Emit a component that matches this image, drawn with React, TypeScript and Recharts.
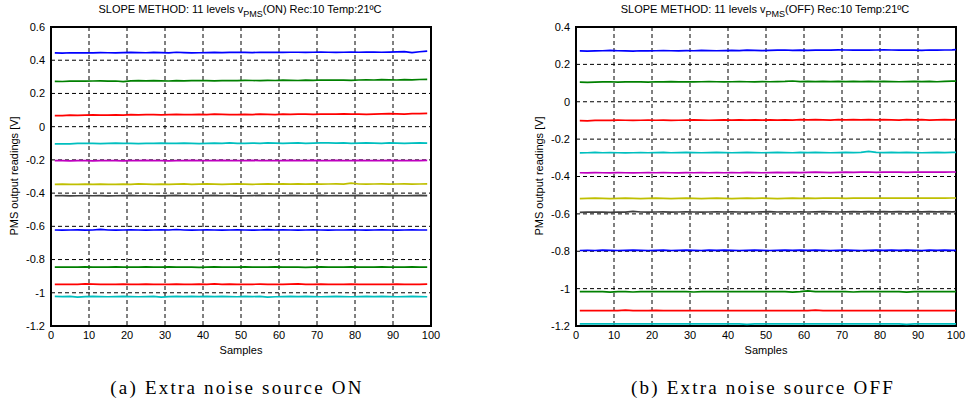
import React from "react";
import { LineChart, Line, XAxis, YAxis, CartesianGrid, ReferenceArea } from "recharts";

// Sample indices (every second sample)
const samplesOn = [
  1, 3, 5, 7, 9, 11, 13, 15, 17, 19,
  21, 23, 25, 27, 29, 31, 33, 35, 37, 39,
  41, 43, 45, 47, 49, 51, 53, 55, 57, 59,
  61, 63, 65, 67, 69, 71, 73, 75, 77, 79,
  81, 83, 85, 87, 89, 91, 93, 95, 97, 99,
];
const samplesOff = [
  1, 3, 5, 7, 9, 11, 13, 15, 17, 19,
  21, 23, 25, 27, 29, 31, 33, 35, 37, 39,
  41, 43, 45, 47, 49, 51, 53, 55, 57, 59,
  61, 63, 65, 67, 69, 71, 73, 75, 77, 79,
  81, 83, 85, 87, 89, 91, 93, 95, 97, 99,
  100,
];

const xTicks = [0, 10, 20, 30, 40, 50, 60, 70, 80, 90, 100];
const yTicksOn = [0.6, 0.4, 0.2, 0, -0.2, -0.4, -0.6, -0.8, -1, -1.2];
const yTicksOff = [0.4, 0.2, 0, -0.2, -0.4, -0.6, -0.8, -1, -1.2];

const levelColors = ["#0000ff", "#008000", "#ff0000", "#00bfbf", "#bf00bf", "#bfbf00", "#404040", "#0000ff", "#008000", "#ff0000", "#00bfbf"];

// Readings in mV, extra noise source ON
const on1 = [
  444, 443, 445, 444, 445, 444, 446, 445, 444, 446,
  447, 446, 445, 447, 446, 444, 448, 446, 444, 445,
  446, 447, 446, 447, 448, 447, 446, 448, 447, 448,
  447, 448, 448, 447, 448, 449, 448, 447, 448, 449,
  448, 449, 449, 448, 449, 450, 452, 446, 451, 455,
];
const on2 = [
  273, 272, 274, 275, 274, 275, 276, 274, 275, 271,
  276, 277, 276, 277, 276, 275, 277, 276, 277, 278,
  277, 276, 277, 278, 277, 279, 278, 277, 279, 278,
  280, 279, 278, 280, 279, 281, 280, 281, 280, 279,
  281, 282, 281, 283, 282, 281, 283, 282, 284, 285,
];
const on3 = [
  67, 66, 69, 68, 70, 71, 70, 69, 71, 70,
  72, 71, 72, 73, 71, 72, 74, 73, 72, 74,
  73, 75, 74, 73, 72, 74, 73, 75, 74, 73,
  75, 74, 76, 75, 74, 76, 75, 76, 77, 76,
  75, 74, 76, 77, 78, 77, 76, 79, 78, 80,
];
const on4 = [
  -103, -104, -103, -101, -100, -101, -102, -100, -99, -101,
  -100, -102, -101, -100, -99, -101, -100, -99, -101, -102,
  -100, -99, -100, -98, -100, -101, -99, -100, -98, -99,
  -100, -99, -98, -100, -99, -98, -97, -99, -98, -100,
  -99, -98, -99, -100, -98, -99, -100, -99, -98, -99,
];
const on5 = [
  -204, -205, -206, -205, -204, -206, -205, -204, -205, -206,
  -204, -205, -203, -205, -204, -206, -205, -204, -203, -205,
  -204, -205, -203, -204, -205, -204, -203, -205, -204, -205,
  -204, -203, -205, -204, -203, -205, -204, -203, -204, -205,
  -203, -204, -205, -204, -203, -205, -204, -205, -204, -203,
];
const on6 = [
  -347, -346, -347, -348, -346, -347, -346, -348, -347, -346,
  -347, -345, -346, -347, -346, -347, -346, -345, -347, -346,
  -345, -346, -347, -346, -345, -346, -347, -346, -345, -346,
  -344, -346, -345, -346, -345, -346, -345, -344, -346, -340,
  -345, -346, -345, -344, -346, -345, -344, -346, -345, -344,
];
const on7 = [
  -416, -415, -417, -416, -415, -416, -415, -417, -416, -415,
  -414, -416, -415, -416, -417, -415, -414, -416, -415, -416,
  -415, -414, -416, -415, -417, -416, -415, -414, -416, -415,
  -416, -414, -415, -416, -415, -414, -416, -415, -416, -415,
  -414, -416, -415, -416, -414, -415, -416, -415, -414, -415,
];
const on8 = [
  -622, -623, -622, -621, -623, -622, -618, -622, -623, -622,
  -621, -622, -623, -622, -621, -622, -619, -622, -623, -622,
  -621, -622, -623, -622, -621, -622, -623, -622, -620, -622,
  -621, -622, -623, -622, -621, -622, -623, -622, -622, -621,
  -622, -623, -622, -621, -622, -623, -622, -621, -622, -622,
];
const on9 = [
  -846, -845, -846, -845, -844, -845, -846, -845, -844, -845,
  -846, -845, -844, -845, -846, -844, -845, -846, -845, -847,
  -845, -844, -845, -846, -845, -844, -845, -846, -845, -844,
  -845, -846, -845, -847, -845, -844, -845, -846, -845, -844,
  -845, -846, -845, -844, -845, -846, -845, -844, -845, -845,
];
const on10 = [
  -950, -949, -950, -949, -947, -948, -949, -950, -949, -948,
  -950, -949, -948, -949, -950, -949, -948, -949, -950, -948,
  -949, -947, -949, -948, -949, -950, -949, -948, -949, -950,
  -949, -948, -947, -949, -950, -948, -949, -950, -949, -948,
  -949, -950, -949, -950, -949, -948, -949, -950, -949, -948,
];
const on11 = [
  -1022, -1023, -1022, -1026, -1023, -1022, -1023, -1024, -1023, -1022,
  -1023, -1024, -1023, -1022, -1026, -1023, -1022, -1023, -1022, -1023,
  -1022, -1023, -1022, -1023, -1024, -1022, -1023, -1022, -1026, -1024,
  -1023, -1022, -1023, -1022, -1023, -1024, -1023, -1022, -1023, -1024,
  -1023, -1022, -1023, -1022, -1023, -1024, -1023, -1022, -1023, -1024,
];

// Readings in mV, extra noise source OFF
const off1 = [
  272, 271, 272, 273, 275, 273, 272, 271, 273, 272,
  273, 274, 273, 272, 274, 273, 275, 274, 273, 274,
  275, 274, 276, 275, 274, 275, 276, 277, 275, 276,
  275, 276, 277, 276, 278, 277, 276, 277, 276, 277,
  278, 277, 276, 277, 276, 275, 277, 276, 277, 278,
  279,
];
const off2 = [
  105, 104, 105, 106, 107, 105, 106, 107, 106, 105,
  107, 106, 108, 106, 107, 106, 107, 108, 107, 106,
  107, 108, 107, 106, 108, 107, 108, 109, 111, 108,
  109, 108, 109, 108, 109, 108, 109, 108, 109, 108,
  109, 108, 107, 108, 109, 108, 109, 107, 109, 110,
  110,
];
const off3 = [
  -101, -102, -100, -99, -100, -98, -99, -100, -99, -98,
  -99, -98, -100, -99, -98, -97, -98, -99, -98, -97,
  -98, -97, -98, -97, -98, -97, -98, -97, -98, -96,
  -97, -96, -97, -98, -96, -97, -96, -97, -96, -97,
  -96, -97, -98, -96, -97, -96, -98, -97, -96, -97,
  -96,
];
const off4 = [
  -274, -273, -271, -273, -272, -273, -274, -273, -272, -273,
  -272, -271, -273, -272, -271, -272, -273, -272, -271, -272,
  -273, -272, -271, -272, -273, -272, -271, -272, -273, -271,
  -272, -271, -272, -273, -272, -271, -272, -271, -266, -271,
  -272, -271, -272, -271, -272, -273, -272, -271, -272, -271,
  -271,
];
const off5 = [
  -380, -381, -379, -380, -381, -379, -380, -381, -380, -379,
  -380, -379, -380, -381, -379, -380, -379, -380, -379, -380,
  -379, -380, -378, -379, -380, -379, -378, -379, -378, -379,
  -378, -377, -378, -379, -378, -377, -378, -377, -376, -378,
  -377, -376, -377, -378, -377, -376, -377, -376, -377, -376,
  -376,
];
const off6 = [
  -518, -517, -516, -517, -518, -517, -516, -517, -518, -517,
  -516, -517, -518, -517, -516, -517, -518, -517, -516, -517,
  -518, -517, -516, -517, -516, -517, -518, -517, -516, -517,
  -516, -517, -516, -515, -516, -517, -516, -515, -516, -515,
  -516, -515, -516, -515, -516, -515, -516, -515, -516, -515,
  -515,
];
const off7 = [
  -592, -591, -590, -591, -592, -590, -591, -587, -590, -591,
  -590, -589, -591, -590, -589, -590, -591, -590, -589, -590,
  -589, -590, -591, -590, -589, -588, -590, -589, -590, -589,
  -590, -589, -588, -589, -590, -589, -588, -589, -588, -589,
  -588, -589, -588, -589, -588, -589, -588, -589, -588, -589,
  -588,
];
const off8 = [
  -796, -795, -796, -794, -795, -796, -795, -794, -795, -796,
  -795, -794, -796, -795, -794, -795, -796, -794, -795, -794,
  -795, -796, -795, -794, -795, -796, -795, -794, -795, -794,
  -795, -794, -795, -796, -795, -794, -795, -796, -795, -794,
  -795, -794, -795, -794, -795, -796, -794, -795, -794, -795,
  -795,
];
const off9 = [
  -1016, -1016, -1016, -1016, -1019, -1016, -1016, -1018, -1016, -1016,
  -1016, -1016, -1016, -1016, -1016, -1018, -1016, -1016, -1016, -1016,
  -1016, -1016, -1016, -1016, -1016, -1016, -1016, -1016, -1019, -1016,
  -1012, -1016, -1016, -1016, -1016, -1016, -1018, -1016, -1016, -1016,
  -1016, -1016, -1016, -1019, -1016, -1016, -1016, -1016, -1016, -1016,
  -1016,
];
const off10 = [
  -1118, -1118, -1118, -1118, -1118, -1118, -1115, -1118, -1118, -1118,
  -1116, -1118, -1118, -1118, -1118, -1118, -1118, -1118, -1118, -1118,
  -1118, -1118, -1118, -1118, -1118, -1118, -1118, -1118, -1118, -1118,
  -1118, -1115, -1118, -1118, -1118, -1118, -1118, -1118, -1118, -1118,
  -1118, -1118, -1118, -1118, -1118, -1118, -1118, -1118, -1118, -1118,
  -1118,
];
const off11 = [
  -1189, -1189, -1189, -1189, -1189, -1189, -1189, -1189, -1189, -1189,
  -1189, -1189, -1189, -1189, -1189, -1189, -1189, -1189, -1189, -1189,
  -1189, -1189, -1191, -1189, -1189, -1189, -1189, -1189, -1189, -1189,
  -1189, -1189, -1189, -1189, -1189, -1189, -1189, -1189, -1189, -1189,
  -1189, -1189, -1189, -1191, -1189, -1189, -1189, -1189, -1189, -1189,
  -1189,
];

const onSeries = [on1, on2, on3, on4, on5, on6, on7, on8, on9, on10, on11];
const offSeries = [off1, off2, off3, off4, off5, off6, off7, off8, off9, off10, off11];

function buildRows(samples: number[], series: number[][]) {
  return samples.map((s, i) => {
    const row: Record<string, number> = { s };
    series.forEach((arr, k) => {
      row["v" + k] = arr[i] / 1000;
    });
    return row;
  });
}

const onRows = buildRows(samplesOn, onSeries);
const offRows = buildRows(samplesOff, offSeries);

const SANS = "'Liberation Sans', Arial, sans-serif";
const SERIF = "'Liberation Serif', 'DejaVu Serif', serif";
const fmt = (v: number) => String(Number(v.toFixed(1)));

type PanelProps = {
  rows: Record<string, number>[];
  yTicks: number[];
  yMin: number;
  yMax: number;
  marginLeft: number;
  marginRight: number;
};

function Panel({ rows, yTicks, yMin, yMax, marginLeft, marginRight }: PanelProps) {
  return (
    <LineChart
      width={483}
      height={360}
      data={rows}
      margin={{ top: 27, right: marginRight, bottom: 4, left: marginLeft }}
    >
      <CartesianGrid stroke="#000" strokeDasharray="4 3" strokeWidth={1} />
      <XAxis
        type="number"
        dataKey="s"
        domain={[0, 100]}
        ticks={xTicks}
        interval={0}
        axisLine={false}
        tickLine={false}
        tickSize={3}
        height={30}
        tick={{ fill: "#000", fontSize: 11, fontFamily: SANS }}
      />
      <YAxis
        type="number"
        domain={[yMin, yMax]}
        ticks={yTicks}
        interval={0}
        axisLine={false}
        tickLine={false}
        tickSize={4}
        width={40}
        tickFormatter={fmt}
        tick={{ fill: "#000", fontSize: 11, fontFamily: SANS }}
      />
      {onSeries.map((_, k) => (
        <Line
          key={k}
          type="linear"
          dataKey={"v" + k}
          stroke={levelColors[k]}
          strokeWidth={1.7}
          dot={false}
          isAnimationActive={false}
        />
      ))}
      <ReferenceArea x1={0} x2={100} y1={yMin} y2={yMax} fill="none" stroke="#000" strokeWidth={2} fillOpacity={0} />
    </LineChart>
  );
}

function Title({ x, mode }: { x: number; mode: string }) {
  return (
    <text x={x} y={13} textAnchor="middle" fontFamily={SANS} fontSize={11} fill="#000">
      SLOPE METHOD: 11 levels v
      <tspan dy={4} fontSize={9}>PMS</tspan>
      <tspan dy={-4}>({mode}) Rec:10 Temp:21ºC</tspan>
    </text>
  );
}

export default function App() {
  return (
    <div style={{ position: "absolute", left: 0, top: 0, width: 966, height: 407, background: "#fff", overflow: "hidden" }}>
      <div style={{ position: "absolute", left: 0, top: 0 }}>
        <Panel rows={onRows} yTicks={yTicksOn} yMin={-1.2} yMax={0.6} marginLeft={11} marginRight={52} />
      </div>
      <div style={{ position: "absolute", left: 483, top: 0 }}>
        <Panel rows={offRows} yTicks={yTicksOff} yMin={-1.2} yMax={0.4} marginLeft={53} marginRight={10} />
      </div>
      <svg width={966} height={407} style={{ position: "absolute", left: 0, top: 0, pointerEvents: "none" }}>
        <Title x={240} mode="ON" />
        <Title x={765} mode="OFF" />
        <text x={241} y={354} textAnchor="middle" fontFamily={SANS} fontSize={11} fill="#000">Samples</text>
        <text x={766} y={354} textAnchor="middle" fontFamily={SANS} fontSize={11} fill="#000">Samples</text>
        <text transform="translate(18,176) rotate(-90)" textAnchor="middle" fontFamily={SANS} fontSize={11} fill="#000">PMS output readings [V]</text>
        <text transform="translate(543,176) rotate(-90)" textAnchor="middle" fontFamily={SANS} fontSize={11} fill="#000">PMS output readings [V]</text>
        <text x={237} y={394} textAnchor="middle" fontFamily={SERIF} fontSize={19} letterSpacing={2.2} fill="#000">(a) Extra noise source ON</text>
        <text x={763} y={394} textAnchor="middle" fontFamily={SERIF} fontSize={19} letterSpacing={2.2} fill="#000">(b) Extra noise source OFF</text>
      </svg>
    </div>
  );
}
